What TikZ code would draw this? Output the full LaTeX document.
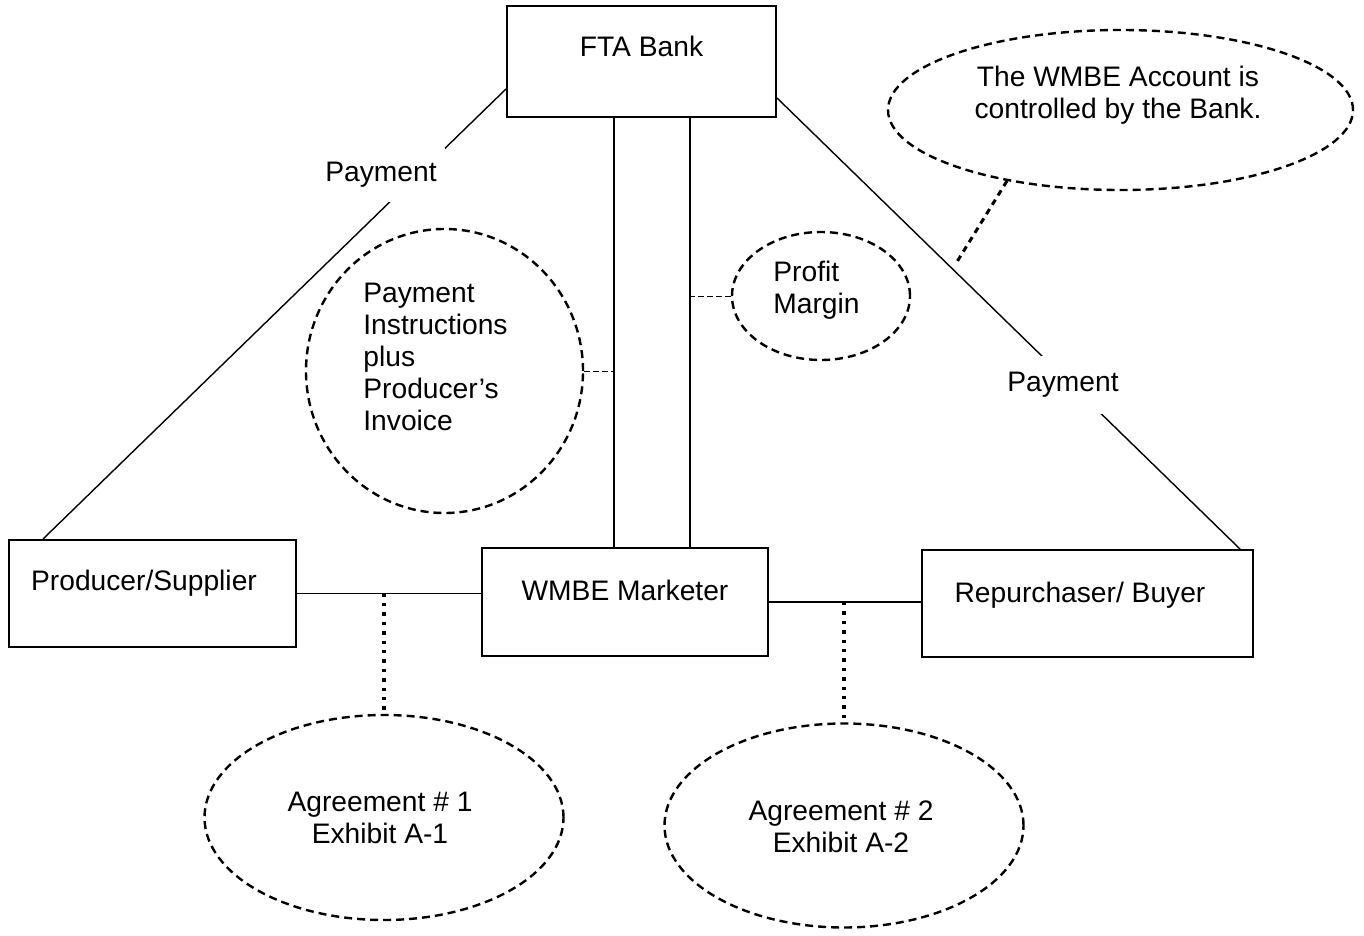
\documentclass[tikz,border=0pt]{standalone}
\usepackage{fontspec}
\setmainfont{Liberation Sans}
\usepackage{tikz}
\usetikzlibrary{positioning, shapes.geometric}

\begin{document}
\begin{tikzpicture}[x=0.5pt,y=-0.5pt,
   font=\fontsize{14.1}{16}\selectfont,
   party/.style={draw,line width=1pt,inner sep=0pt},
   bubble/.style={ellipse,draw,line width=1.2pt,dash pattern=on 4pt off 2.5pt,inner sep=0pt,align=center},
   boxtext/.style={anchor=base,inner sep=0pt},
   note/.style={anchor=west,align=left,inner sep=0pt},
   link/.style={line width=0.7pt},
   tick/.style={line width=0.5pt,dash pattern=on 3pt off 1.5pt},
   dots/.style={line width=1.7pt,dash pattern=on 1.7pt off 3pt},
   acctline/.style={line width=1.5pt,dash pattern=on 3pt off 2.5pt},
   paylabel/.style={fill=white,inner xsep=4pt,inner ysep=7pt}]
\useasboundingbox (0,0) rectangle (1364,936);

\node[party,minimum width=134.5pt,minimum height=55.5pt] (bank) at (641.5,61.5) {};
\node[party,minimum width=143.5pt,minimum height=53.5pt] (prod) at (152.5,593.5) {};
\node[party,minimum width=143pt,minimum height=54pt] (mkt) at (625,602) {};
\node[party,minimum width=165.5pt,minimum height=53.5pt] (buy) at (1087.5,603.5) {};
\node[boxtext] (banktxt) at ([yshift=-26pt]bank.north) {FTA Bank};
\node[boxtext] (prodtxt) at ([xshift=-4.25pt,yshift=-25.5pt]prod.north) {Producer/Supplier};
\node[boxtext] (mkttxt) at ([yshift=-26.5pt]mkt.north) {WMBE Marketer};
\node[boxtext] (buytxt) at ([xshift=-3.75pt,yshift=-26.5pt]buy.north) {Repurchaser/ Buyer};

\node[bubble,minimum width=232.5pt,minimum height=80pt] (acct) at (1120.5,110) {};
\node[bubble,minimum width=138.5pt,minimum height=142pt] (instr) at (444.5,371) {};
\node[bubble,minimum width=89pt,minimum height=64pt] (profit) at (821,296) {};
\node[bubble,minimum width=179.5pt,minimum height=102.5pt] (agr1) at (384,817.5) {};
\node[bubble,minimum width=179.5pt,minimum height=102pt] (agr2) at (844,825.5) {};
\node[note,anchor=center,align=center] (accttxt) at (1118,95) {The WMBE Account is\\controlled by the Bank.};
\node[note] (instrtxt) at (363,357) {Payment\\Instructions\\plus\\Producer’s\\Invoice};
\node[note] (profittxt) at (773,290.5) {Profit\\Margin};
\node[note,anchor=center,align=center] (agr1txt) at (380,818) {Agreement \# 1\\Exhibit A-1};
\node[note,anchor=center,align=center] (agr2txt) at (841,827) {Agreement \# 2\\Exhibit A-2};

\coordinate (lineL) at (614,0);
\coordinate (lineR) at (690,0);
\coordinate (acctend) at (955,265);

\draw[link] ([yshift=-13.75pt]bank.west) -- ([xshift=17.5pt]prod.north west);
\draw[link] ([yshift=-18.25pt]bank.east) -- ([xshift=-7pt]buy.north east);
\draw[link] (bank.south -| lineL) -- (mkt.north -| lineL);
\draw[link] (bank.south -| lineR) -- (mkt.north -| lineR);
\draw[link] (prod.east) -- (mkt.west |- prod.east);
\draw[link] (mkt.east) -- (buy.west |- mkt.east);
\draw[tick] (instr.east) -- (instr.east -| lineL);
\draw[tick] (profit.west) -- (profit.west -| lineR);
\draw[dots] (agr1.north |- prod.east) -- (agr1.north);
\draw[dots] (agr2.north |- mkt.east) -- (agr2.north);
\draw[acctline] (acct.212) -- (acctend);

\node[paylabel] (payL) at (381,175) {Payment};
\node[paylabel,inner ysep=8pt] (payR) at (1063,385) {Payment};
\end{tikzpicture}
\end{document}
